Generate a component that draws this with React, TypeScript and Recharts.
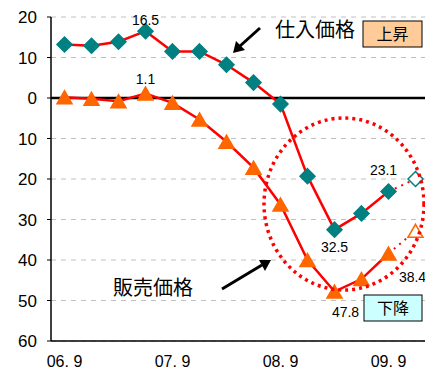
import React from "react"
import {
  CartesianGrid,
  Line,
  LineChart,
  ReferenceLine,
  XAxis,
  YAxis,
} from "recharts"

const periods = ["06.9", "06.12", "07.3", "07.6", "07.9", "07.12", "08.3", "08.6", "08.9", "08.12", "09.3", "09.6", "09.9", "09.12"]
const axisLabelIndex = [0, 4, 8, 12]
const axisLabelText = ["06. 9", "07. 9", "08. 9", "09. 9"]

// 仕入価格 / 販売価格 (DI)
const purchase = [13.2, 12.9, 13.9, 16.5, 11.5, 11.5, 8.2, 3.8, -1.5, -19.3, -32.5, -28.5, -23.1, null]
const purchaseForecast = [null, null, null, null, null, null, null, null, null, null, null, null, -23.1, -20]
const sales = [0.2, -0.2, -0.8, 1.1, -1.2, -5.3, -10.8, -17.2, -26.3, -40, -47.8, -44.7, -38.4, null]
const salesForecast = [null, null, null, null, null, null, null, null, null, null, null, null, -38.4, -32.8]

const yTicks = [20, 10, 0, -10, -20, -30, -40, -50, -60]
const boundaryTicks = periods.map((_, i) => i - 0.5).concat([periods.length - 0.5])

const purchaseLabels: Record<number, [number, number]> = { 3: [0, -6], 10: [0, 22], 12: [-5, -17] }
const salesLabels: Record<number, [number, number]> = { 3: [0, -10], 10: [11, 25], 12: [24, 28] }

const data = periods.map((p, i) => ({
  i,
  period: p,
  purchase: purchase[i],
  purchaseForecast: purchaseForecast[i],
  sales: sales[i],
  salesForecast: salesForecast[i],
}))

const TEAL = "#008080"
const ORANGE = "#FF6600"
const NUM_FONT = "'Liberation Sans', Arial, sans-serif"
const JP_FONT = "'Noto Sans CJK JP', sans-serif"

function diamond(cx: number, cy: number, fill: string, key: number) {
  const r = 7.5
  return (
    <polygon
      key={key}
      points={`${cx},${cy - r} ${cx + r},${cy} ${cx},${cy + r} ${cx - r},${cy}`}
      fill={fill}
      stroke={TEAL}
      strokeWidth={1.5}
    />
  )
}

function triangle(cx: number, cy: number, fill: string, key: number) {
  const w = 7.5
  const h = 6.5
  return (
    <polygon
      key={key}
      points={`${cx},${cy - h} ${cx + w},${cy + h} ${cx - w},${cy + h}`}
      fill={fill}
      stroke={ORANGE}
      strokeWidth={1.5}
    />
  )
}

const makeLabel = (table: Record<number, [number, number]>, values: (number | null)[]) => (props: any) => {
  const { x, y, index } = props
  const off = table[index]
  if (!off || x == null || y == null) return <g key={index} />
  return (
    <text
      key={index}
      x={x + off[0]}
      y={y + off[1]}
      textAnchor="middle"
      fontSize={14}
      fontFamily={NUM_FONT}
      fill="#000"
    >
      {Math.abs(values[index] as number).toFixed(1)}
    </text>
  )
}

export default function App() {
  return (
    <div style={{ position: "absolute", left: 0, top: 0, width: 425, height: 370, overflow: "hidden", background: "#fff" }}>
      <LineChart width={430} height={370} data={data} margin={{ top: 17, right: 1, left: 0, bottom: 0 }}>
        <CartesianGrid vertical={false} stroke="#C0C0C0" strokeDasharray="5 5" />
        <XAxis
          xAxisId={0}
          type="number"
          dataKey="i"
          domain={[-0.5, periods.length - 0.5]}
          ticks={boundaryTicks}
          tick={false}
          mirror
          tickSize={5}
          height={6}
          stroke="#000"
          axisLine={{ stroke: "#000", strokeWidth: 1.5 }}
          tickLine={{ stroke: "#000", strokeWidth: 1 }}
        />
        <XAxis
          xAxisId="lab"
          type="number"
          dataKey="i"
          domain={[-0.5, periods.length - 0.5]}
          ticks={axisLabelIndex}
          tickFormatter={(v: number) => axisLabelText[axisLabelIndex.indexOf(v)] ?? ""}
          axisLine={false}
          tickLine={false}
          tickMargin={9}
          height={29}
          tick={{ fontSize: 16, fontFamily: NUM_FONT, fill: "#000" }}
        />
        <YAxis
          width={51}
          domain={[-60, 20]}
          ticks={yTicks}
          interval={0}
          tickFormatter={(v: number) => String(Math.abs(v))}
          tickSize={4}
          tickMargin={10}
          axisLine={{ stroke: "#000", strokeWidth: 1.5 }}
          tickLine={{ stroke: "#000" }}
          tick={{ fontSize: 17, fontFamily: NUM_FONT, fill: "#000" }}
        />
        <ReferenceLine y={0} stroke="#000" strokeWidth={2.5} />
        <Line
          xAxisId="lab"
          dataKey="purchase"
          stroke="none"
          dot={false}
          activeDot={false}
          isAnimationActive={false}
        />
        <Line
          dataKey="purchaseForecast"
          stroke="#FF0000"
          strokeWidth={2}
          strokeDasharray="2 5"
          isAnimationActive={false}
          dot={(p: any) => (p.index === 13 && p.cy != null ? diamond(p.cx, p.cy, "#fff", p.index) : <g key={p.index} />)}
        />
        <Line
          dataKey="salesForecast"
          stroke="#FF0000"
          strokeWidth={2}
          strokeDasharray="2 5"
          isAnimationActive={false}
          dot={(p: any) => (p.index === 13 && p.cy != null ? triangle(p.cx, p.cy, "#fff", p.index) : <g key={p.index} />)}
        />
        <Line
          dataKey="purchase"
          stroke="#FF0000"
          strokeWidth={2.5}
          isAnimationActive={false}
          dot={(p: any) => (p.cy != null ? diamond(p.cx, p.cy, TEAL, p.index) : <g key={p.index} />)}
          label={makeLabel(purchaseLabels, purchase)}
        />
        <Line
          dataKey="sales"
          stroke="#FF0000"
          strokeWidth={2.5}
          isAnimationActive={false}
          dot={(p: any) => (p.cy != null ? triangle(p.cx, p.cy, ORANGE, p.index) : <g key={p.index} />)}
          label={makeLabel(salesLabels, sales)}
        />
      </LineChart>
      <svg width={425} height={370} style={{ position: "absolute", left: 0, top: 0, pointerEvents: "none" }}>
        <ellipse cx={344} cy={204} rx={80} ry={86} fill="none" stroke="#FF0000" strokeWidth={3.5} strokeDasharray="3 4" />
        <text x={275} y={37} fontSize={20} fontFamily={JP_FONT} fill="#000">仕入価格</text>
        <line x1={260} y1={28} x2={240} y2={46} stroke="#000" strokeWidth={3} />
        <polygon points="233,53 236,41 245,50" fill="#000" />
        <rect x={363} y={21} width={59} height={26} fill="#FFCC99" stroke="#000" strokeWidth={1} />
        <text x={392.5} y={40} textAnchor="middle" fontSize={16} fontFamily={JP_FONT} fill="#000">上昇</text>
        <text x={113} y={295} fontSize={20} fontFamily={JP_FONT} fill="#000">販売価格</text>
        <line x1={222} y1={289} x2={262} y2={265} stroke="#000" strokeWidth={3} />
        <polygon points="271,260 259,260 265,271" fill="#000" />
        <rect x={364} y={295} width={58} height={26} fill="#CCFFFF" stroke="#000" strokeWidth={1} />
        <text x={393} y={314} textAnchor="middle" fontSize={16} fontFamily={JP_FONT} fill="#000">下降</text>
      </svg>
    </div>
  )
}
